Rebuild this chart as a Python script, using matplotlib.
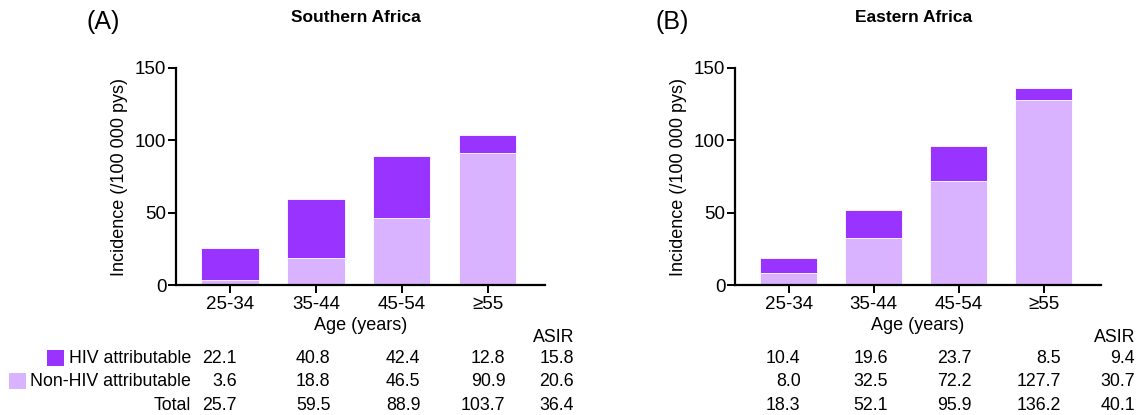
import matplotlib
matplotlib.use("Agg")
import matplotlib.pyplot as plt
from matplotlib.patches import Rectangle
from matplotlib.transforms import blended_transform_factory

plt.rcParams["font.family"] = ["Liberation Sans", "DejaVu Sans"]

age_groups = ["25-34", "35-44", "45-54", "≥55"]

hiv_south = [22.1, 40.8, 42.4, 12.8]
non_hiv_south = [3.6, 18.8, 46.5, 90.9]
total_south = [25.7, 59.5, 88.9, 103.7]
asir_south = [15.8, 20.6, 36.4]

hiv_east = [10.4, 19.6, 23.7, 8.5]
non_hiv_east = [8.0, 32.5, 72.2, 127.7]
total_east = [18.3, 52.1, 95.9, 136.2]
asir_east = [9.4, 30.7, 40.1]

DARK = "#9933FF"
LIGHT = "#D9B3FF"

W, H = 1143, 415
fig = plt.figure(figsize=(W / 100, H / 100), dpi=100)

FS = 12.8


def fy(py):
    # pixel row from top -> figure fraction
    return 1 - py / H


def panel(left_px, right_px, letter, letter_x, title, hiv, non_hiv, total, asir, col_x):
    ax = fig.add_axes([left_px / W, fy(285), (right_px - left_px) / W, (285 - 68) / H])
    x = list(range(len(age_groups)))
    ax.bar(x, non_hiv, width=0.67, color=LIGHT, edgecolor="white", linewidth=0.6)
    ax.bar(x, hiv, width=0.67, bottom=non_hiv, color=DARK, edgecolor="white", linewidth=0.6)
    ax.set_xlim(-0.63, 3.67)
    ax.set_ylim(0, 150)
    ax.set_yticks([0, 50, 100, 150])
    ax.set_xticks(x)
    ax.set_xticklabels(age_groups, fontsize=13.5)
    ax.tick_params(axis="y", labelsize=13.5, length=6, width=1.4, pad=1)
    ax.tick_params(axis="x", length=6, width=1.4, pad=2)
    for s in ["top", "right"]:
        ax.spines[s].set_visible(False)
    for s in ["left", "bottom"]:
        ax.spines[s].set_linewidth(1.6)
    ax.set_xlabel("Age (years)", fontsize=13, labelpad=3)
    ax.set_ylabel("Incidence (/100 000 pys)", fontsize=13, labelpad=5)

    center = (left_px + right_px) / 2 / W
    fig.text(center - 0.004, fy(17), title, ha="center", va="center", fontsize=12.5, fontweight="bold")
    fig.text(letter_x / W, fy(22), letter, ha="center", va="center", fontsize=18)

    tr = blended_transform_factory(ax.transData, fig.transFigure)
    rows = [(hiv, asir[0]), (non_hiv, asir[1]), (total, asir[2])]
    row_y = [358, 381, 405]
    ax.text(col_x[-1], fy(337), "ASIR", transform=tr, ha="right", va="center", fontsize=FS)
    for (vals, a), ry in zip(rows, row_y):
        for cx, v in zip(col_x[:-1], vals):
            ax.text(cx, fy(ry), f"{v:.1f}", transform=tr, ha="right", va="center", fontsize=FS)
        ax.text(col_x[-1], fy(ry), f"{a:.1f}", transform=tr, ha="right", va="center", fontsize=FS)
    return ax


panel(176, 545, "(A)", 103, "Southern Africa", hiv_south, non_hiv_south, total_south, asir_south,
      [0.08, 1.17, 2.22, 3.21, 4.01])
panel(735, 1101, "(B)", 672, "Eastern Africa", hiv_east, non_hiv_east, total_east, asir_east,
      [0.14, 1.17, 2.15, 3.2, 4.07])

# row labels for the table (left panel only)
labels = ["HIV attributable", "Non-HIV attributable", "Total"]
for lab, ry in zip(labels, [358, 381, 405]):
    fig.text(191 / W, fy(ry), lab, ha="right", va="center", fontsize=FS)
fig.patches.append(Rectangle((47 / W, fy(366)), 17 / W, 16 / H, transform=fig.transFigure,
                             facecolor=DARK, edgecolor="none"))
fig.patches.append(Rectangle((9 / W, fy(389)), 17 / W, 16 / H, transform=fig.transFigure,
                             facecolor=LIGHT, edgecolor="none"))

fig.savefig("out.png", dpi=100)
